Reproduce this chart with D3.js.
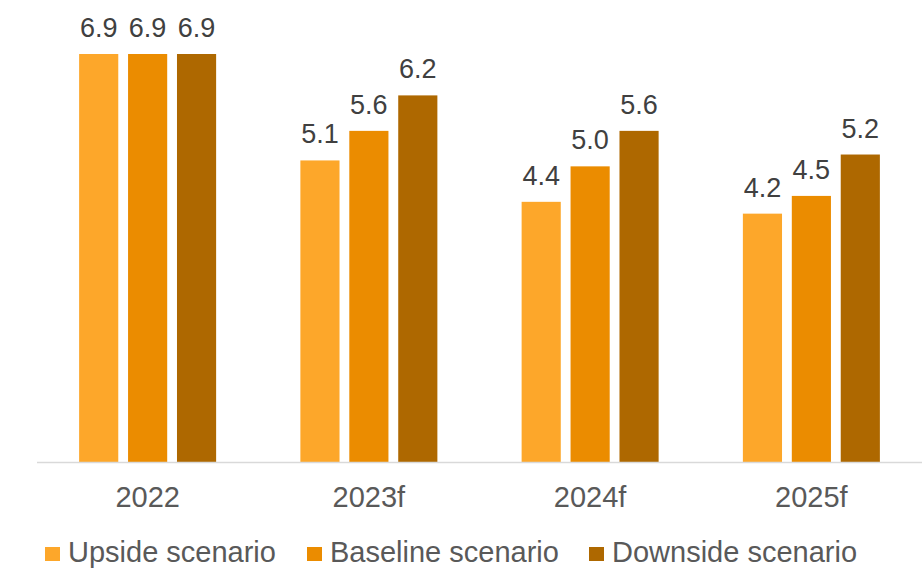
<!DOCTYPE html>
<html>
<head>
<meta charset="utf-8">
<script src="https://cdn.jsdelivr.net/npm/d3@7"></script>
<style>
  body { margin: 0; background: #fff; }
  text { font-family: "Liberation Sans", Arial, sans-serif; }
</style>
</head>
<body>
<script>
// Chart data
var categories = ["2022", "2023f", "2024f", "2025f"];
var seriesNames = ["Upside scenario", "Baseline scenario", "Downside scenario"];
var upside = [6.9, 5.1, 4.4, 4.2];
var baseline = [6.9, 5.6, 5.0, 4.5];
var downside = [6.9, 6.2, 5.6, 5.2];
var seriesColors = ["#FDA72A", "#EB8C00", "#AE6800"];

var values = [upside, baseline, downside];

var width = 922, height = 569;
var svg = d3.select("body").append("svg")
  .attr("width", width)
  .attr("height", height);

// scales
var x0 = d3.scaleBand().domain(categories).range([37, 922]).paddingInner(0).paddingOuter(0);
var x1 = d3.scaleBand().domain(d3.range(seriesNames.length))
  .range([0, 137]).paddingInner(0.2).paddingOuter(0);
var y = d3.scaleLinear().domain([0, 8]).range([462, 462 - 59.13 * 8]);

var groups = svg.selectAll("g.cat")
  .data(categories)
  .enter().append("g")
  .attr("class", "cat")
  .attr("transform", function(d) {
    return "translate(" + (x0(d) + x0.bandwidth() / 2 - 68.5) + ",0)";
  });

groups.selectAll("rect")
  .data(function(d, i) { return values.map(function(s, j) { return {s: j, v: s[i]}; }); })
  .enter().append("rect")
  .attr("x", function(d) { return x1(d.s); })
  .attr("width", x1.bandwidth())
  .attr("y", function(d) { return y(d.v); })
  .attr("height", function(d) { return y(0) - y(d.v); })
  .attr("fill", function(d) { return seriesColors[d.s]; });

groups.selectAll("text.val")
  .data(function(d, i) { return values.map(function(s, j) { return {s: j, v: s[i]}; }); })
  .enter().append("text")
  .attr("class", "val")
  .attr("x", function(d) { return x1(d.s) + x1.bandwidth() / 2; })
  .attr("y", function(d) { return y(d.v) - 17; })
  .attr("text-anchor", "middle")
  .attr("font-size", "27px")
  .attr("fill", "#404040")
  .text(function(d) { return d.v.toFixed(1); });

// X axis
var xAxis = svg.append("g")
  .attr("transform", "translate(0," + y(0) + ")")
  .call(d3.axisBottom(x0).tickSize(0).tickPadding(0));
xAxis.select(".domain").attr("stroke", "#d9d9d9").attr("stroke-width", 1.5)
  .attr("d", "M37,0.5H922");
xAxis.selectAll("text")
  .attr("dy", 0)
  .attr("y", 45)
  .attr("font-size", "29px")
  .attr("fill", "#595959")
  .style("font-family", "'Liberation Sans', Arial, sans-serif");

// Legend
var legendX = [45, 307, 589];
var legend = svg.selectAll("g.leg")
  .data(seriesNames)
  .enter().append("g")
  .attr("class", "leg")
  .attr("transform", function(d, i) { return "translate(" + legendX[i] + ",0)"; });
legend.append("rect")
  .attr("x", 0).attr("y", 547)
  .attr("width", 15).attr("height", 14)
  .attr("fill", function(d, i) { return seriesColors[i]; });
legend.append("text")
  .attr("x", 23).attr("y", 562)
  .attr("font-size", "29px")
  .attr("fill", "#595959")
  .text(function(d) { return d; });
</script>
</body>
</html>
